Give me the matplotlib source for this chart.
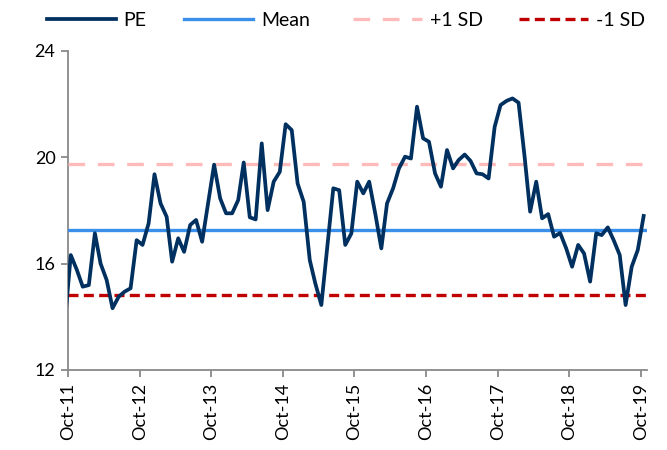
import matplotlib
matplotlib.use("Agg")
import matplotlib.pyplot as plt
import pandas as pd

plt.rcParams['font.family'] = ['Lato', 'DejaVu Sans']

# Monthly forward PE, Sep-2011 .. Oct-2019 (mid-month observations)
pe_values = [
    13.80,
    16.32, 15.76, 15.13, 15.19, 17.14, 16.00, 15.38, 14.32, 14.75, 14.94, 15.07, 16.88,
    16.70, 17.51, 19.36, 18.26, 17.76, 16.07, 16.95, 16.44, 17.45, 17.64, 16.82, 18.30,
    19.72, 18.45, 17.89, 17.89, 18.39, 19.80, 17.74, 17.66, 20.52, 18.01, 19.08, 19.45,
    21.24, 21.02, 19.01, 18.32, 16.13, 15.26, 14.44, 16.60, 18.83, 18.76, 16.70, 17.13,
    19.08, 18.64, 19.08, 17.88, 16.57, 18.26, 18.83, 19.58, 20.02, 19.95, 21.90, 20.71,
    20.58, 19.39, 18.89, 20.27, 19.58, 19.89, 20.10, 19.86, 19.39, 19.36, 19.20, 21.14,
    21.96, 22.12, 22.21, 22.05, 20.00, 17.95, 19.08, 17.70, 17.86, 17.01, 17.15, 16.57,
    15.88, 16.70, 16.38, 15.32, 17.14, 17.07, 17.36, 16.88, 16.32, 14.44, 15.88, 16.51,
    17.79,
]
dates = pd.date_range("2011-09-01", periods=len(pe_values), freq="MS") + pd.Timedelta(days=14)

mean_pe = 17.27
sd_pe = 2.46

y_ticks = [12, 16, 20, 24]
x_tick_dates = pd.date_range("2011-10-01", "2019-10-01", freq="12MS")
x_tick_labels = [d.strftime("%b-%y") for d in x_tick_dates]

navy = "#00305F"
blue = "#3A8FEA"
pink = "#FFBABA"
red = "#C00000"
axis_gray = "#898989"

fig = plt.figure(figsize=(6.67, 4.5), dpi=100)
ax = fig.add_axes([0.102, 0.178, 0.868, 0.709])

ax.plot(dates, pe_values, color=navy, lw=2.7, label="PE", solid_joinstyle="round", zorder=5)
ax.axhline(mean_pe, color=blue, lw=2.4, label="Mean", zorder=4)
ax.axhline(mean_pe + sd_pe, color=pink, lw=2.4, ls=(0, (5.0, 3.8)), label="+1 SD", zorder=3)
ax.axhline(mean_pe - sd_pe, color=red, lw=2.4, ls=(0, (3.0, 1.6)), label="-1 SD", zorder=3)

ax.set_xlim(pd.Timestamp("2011-10-01"), pd.Timestamp("2019-11-01"))
ax.set_ylim(12, 24)
ax.set_yticks(y_ticks)
ax.set_xticks(x_tick_dates)
ax.set_xticklabels(x_tick_labels, rotation=90)

for side in ("top", "right"):
    ax.spines[side].set_visible(False)
for side in ("left", "bottom"):
    ax.spines[side].set_color(axis_gray)
    ax.spines[side].set_linewidth(1.3)
ax.tick_params(axis="both", colors=axis_gray, length=5, width=1.3, labelsize=13,
               labelcolor="black", direction="out")
ax.tick_params(axis="y", pad=4)
ax.tick_params(axis="x", pad=4)

# Legend row above the plot: one entry per slot, left-anchored in figure coordinates
handles, labels = ax.get_legend_handles_labels()
slot_left = [0.070, 0.276, 0.529, 0.778]
for h, lab, x0 in zip(handles, labels, slot_left):
    fig.legend([h], [lab], loc="center left", bbox_to_anchor=(x0, 0.955),
               bbox_transform=fig.transFigure, frameon=False, fontsize=14,
               handlelength=3.55, handletextpad=0.4, borderpad=0,
               borderaxespad=0)

fig.savefig("out.png", dpi=100)
